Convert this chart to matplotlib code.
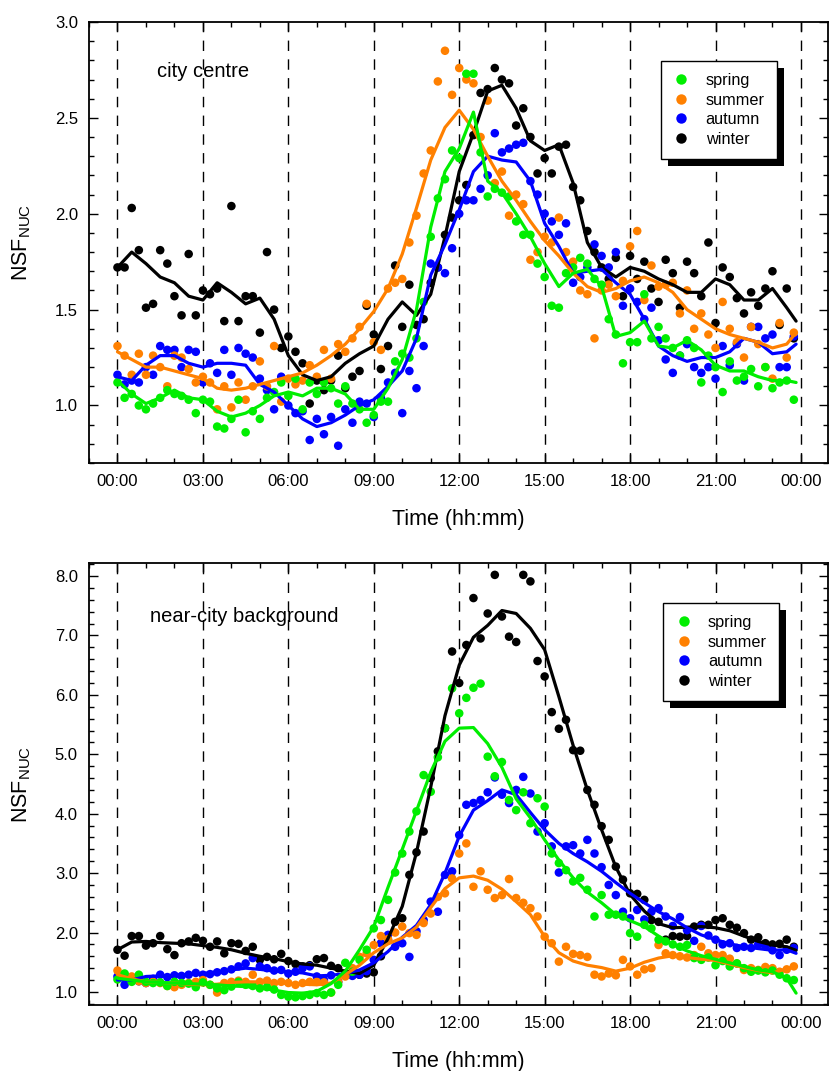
import numpy as np
import matplotlib
matplotlib.use('Agg')
import matplotlib.pyplot as plt
from matplotlib.patches import Rectangle
from matplotlib.lines import Line2D
from matplotlib.ticker import MultipleLocator, FixedLocator

plt.rcParams['font.family'] = ['Liberation Sans', 'DejaVu Sans']
plt.rcParams['mathtext.fontset'] = 'custom'
plt.rcParams['mathtext.rm'] = 'Liberation Sans'

SEASONS = ['spring', 'summer', 'autumn', 'winter']
COLORS = {'spring': '#00ee00', 'summer': '#ff8000', 'autumn': '#0000ff', 'winter': '#000000'}

# scatter: 15-min resolution (hours)
T_SCATTER = np.arange(96) * 0.25
# smoothed lines: 30-min resolution, last point at 23:50
T_LINE = np.append(np.arange(0, 24, 0.5), 23.83)

XTICKS = [0, 3, 6, 9, 12, 15, 18, 21, 24]
XTICKLABELS = ['00:00', '03:00', '06:00', '09:00', '12:00', '15:00', '18:00', '21:00', '00:00']

# ---------------- city centre ----------------
CC_SPRING = [1.12, 1.04, 1.06, 1.00, 0.98, 1.01, 1.04, 1.08, 1.06, 1.05, 1.03, 0.96,
             1.03, 1.02, 0.89, 0.88, 0.93, 1.03, 0.86, 0.97, 0.93, 1.04, 1.07, 1.12,
             1.05, 1.14, 0.98, 1.12, 1.06, 1.12, 1.09, 1.01, 1.10, 1.01, 0.98, 0.91,
             0.95, 1.02, 1.02, 1.23, 1.27, 1.25, 1.35, 1.54, 1.88, 2.08, 2.18, 2.33,
             2.29, 2.73, 2.73, 2.32, 2.09, 2.13, 2.11, 2.09, 1.96, 1.89, 1.89, 1.74,
             1.67, 1.52, 1.51, 1.69, 1.72, 1.77, 1.74, 1.66, 1.63, 1.45, 1.37, 1.22,
             1.33, 1.33, 1.58, 1.35, 1.41, 1.35, 1.30, 1.26, 1.34, 1.30, 1.12, 1.26,
             1.20, 1.07, 1.23, 1.13, 1.15, 1.19, 1.10, 1.20, 1.09, 1.12, 1.13, 1.03]
CC_SUMMER = [1.31, 1.26, 1.16, 1.27, 1.16, 1.26, 1.20, 1.10, 1.26, 1.25, 1.19, 1.12,
             1.15, 1.12, 0.98, 1.10, 0.99, 1.12, 1.03, 1.10, 1.23, 1.10, 1.31, 1.02,
             1.14, 1.11, 1.13, 1.21, 1.15, 1.29, 1.14, 1.32, 1.28, 1.35, 1.41, 1.53,
             1.33, 1.29, 1.61, 1.64, 1.66, 1.85, 1.99, 2.21, 2.33, 2.69, 2.85, 2.62,
             2.76, 2.70, 2.68, 2.40, 2.59, 2.16, 2.22, 1.99, 2.10, 2.05, 1.76, 1.80,
             1.88, 1.85, 1.98, 1.80, 1.75, 1.60, 1.58, 1.35, 1.60, 1.63, 1.57, 1.65,
             1.83, 1.91, 1.55, 1.73, 1.62, 1.63, 1.64, 1.48, 1.60, 1.40, 1.48, 1.37,
             1.30, 1.54, 1.40, 1.33, 1.25, 1.41, 1.32, 1.20, 1.14, 1.43, 1.25, 1.38]
CC_AUTUMN = [1.16, 1.11, 1.13, 1.12, 1.20, 1.16, 1.31, 1.29, 1.29, 1.20, 1.29, 1.28,
             1.12, 1.22, 1.17, 1.29, 1.16, 1.30, 1.27, 1.25, 1.14, 1.08, 0.98, 1.15,
             1.00, 0.96, 0.97, 0.82, 0.93, 0.85, 0.94, 0.79, 0.98, 0.91, 1.02, 1.01,
             0.94, 1.04, 1.12, 1.17, 0.96, 1.18, 1.09, 1.31, 1.74, 1.72, 1.69, 1.82,
             2.00, 2.07, 2.07, 2.13, 2.20, 2.42, 2.32, 2.34, 2.36, 2.37, 2.17, 2.10,
             2.00, 1.96, 1.89, 1.95, 1.64, 1.67, 1.72, 1.84, 1.78, 1.72, 1.80, 1.52,
             1.61, 1.54, 1.45, 1.51, 1.34, 1.24, 1.17, 1.26, 1.32, 1.20, 1.17, 1.20,
             1.14, 1.31, 1.21, 1.32, 1.13, 1.41, 1.41, 1.35, 1.37, 1.20, 1.20, 1.36]
CC_WINTER = [1.72, 1.72, 2.03, 1.81, 1.51, 1.53, 1.81, 1.74, 1.57, 1.47, 1.79, 1.47,
             1.60, 1.58, 1.61, 1.44, 2.04, 1.44, 1.57, 1.57, 1.38, 1.80, 1.50, 1.30,
             1.36, 1.28, 1.22, 1.01, 1.13, 1.08, 1.13, 1.26, 1.09, 1.15, 1.18, 1.52,
             1.37, 1.19, 1.31, 1.73, 1.41, 1.63, 1.42, 1.45, 1.64, 1.72, 1.89, 1.98,
             2.07, 2.15, 2.41, 2.63, 2.65, 2.76, 2.70, 2.68, 2.46, 2.55, 2.40, 2.21,
             2.29, 2.21, 2.35, 2.36, 2.14, 2.07, 1.91, 1.80, 1.72, 1.66, 1.77, 1.57,
             1.78, 1.66, 1.75, 1.61, 1.54, 1.76, 1.69, 1.51, 1.75, 1.69, 1.57, 1.85,
             1.43, 1.72, 1.67, 1.56, 1.48, 1.59, 1.52, 1.61, 1.70, 1.42, 1.61, 1.35]

CC_SPRING_FIT = [1.13, 1.06, 1.01, 1.04, 1.08, 1.04, 1.03, 0.97, 0.94, 0.96,
                 1.00, 1.05, 1.07, 1.05, 1.09, 1.09, 1.06, 0.98, 0.98, 1.09,
                 1.24, 1.50, 1.93, 2.22, 2.34, 2.53, 2.17, 2.11, 2.00, 1.88,
                 1.74, 1.62, 1.69, 1.71, 1.62, 1.36, 1.38, 1.44, 1.31, 1.30,
                 1.34, 1.29, 1.21, 1.18, 1.18, 1.15, 1.13, 1.13, 1.12]
CC_SUMMER_FIT = [1.28, 1.24, 1.20, 1.20, 1.18, 1.16, 1.14, 1.09, 1.08, 1.09,
                 1.11, 1.13, 1.15, 1.17, 1.21, 1.26, 1.32, 1.40, 1.49, 1.61,
                 1.79, 2.03, 2.28, 2.45, 2.54, 2.44, 2.30, 2.17, 2.07, 1.96,
                 1.86, 1.78, 1.69, 1.62, 1.59, 1.61, 1.65, 1.67, 1.64, 1.59,
                 1.50, 1.45, 1.40, 1.37, 1.35, 1.33, 1.30, 1.32, 1.38]
CC_AUTUMN_FIT = [1.15, 1.13, 1.21, 1.26, 1.26, 1.22, 1.20, 1.22, 1.22, 1.21,
                 1.11, 1.07, 1.00, 0.93, 0.89, 0.91, 0.95, 1.00, 1.03, 1.10,
                 1.18, 1.35, 1.68, 1.84, 2.02, 2.22, 2.30, 2.28, 2.27, 2.17,
                 1.95, 1.83, 1.69, 1.70, 1.71, 1.64, 1.58, 1.45, 1.31, 1.26,
                 1.23, 1.25, 1.25, 1.28, 1.35, 1.33, 1.27, 1.28, 1.32]
CC_WINTER_FIT = [1.72, 1.80, 1.74, 1.67, 1.64, 1.57, 1.55, 1.64, 1.59, 1.53,
                 1.56, 1.45, 1.26, 1.16, 1.13, 1.15, 1.22, 1.27, 1.31, 1.45,
                 1.54, 1.47, 1.58, 1.88, 2.22, 2.42, 2.64, 2.67, 2.55, 2.38,
                 2.33, 2.36, 2.16, 1.85, 1.72, 1.67, 1.72, 1.70, 1.66, 1.63,
                 1.59, 1.59, 1.66, 1.63, 1.55, 1.55, 1.61, 1.51, 1.44]

# ---------------- near-city background ----------------
NC_SPRING = [1.21, 1.31, 1.17, 1.29, 1.17, 1.15, 1.16, 1.10, 1.17, 1.15, 1.14, 1.08,
             1.16, 1.12, 1.06, 1.03, 1.09, 1.17, 1.12, 1.10, 1.06, 1.08, 1.04, 0.95,
             0.92, 0.91, 0.93, 0.95, 0.98, 0.95, 0.99, 1.12, 1.49, 1.34, 1.54, 1.71,
             2.07, 2.21, 2.55, 3.01, 3.33, 3.70, 4.04, 4.65, 4.37, 4.95, 5.44, 6.11,
             5.69, 5.95, 6.12, 6.19, 4.96, 4.63, 4.87, 4.23, 4.06, 4.36, 3.84, 4.26,
             4.12, 3.33, 3.17, 3.05, 2.86, 2.92, 2.72, 2.27, 2.63, 2.30, 2.30, 2.27,
             1.99, 1.93, 2.13, 2.07, 1.88, 1.85, 1.80, 1.76, 1.79, 1.57, 1.54, 1.58,
             1.45, 1.52, 1.43, 1.48, 1.40, 1.34, 1.36, 1.33, 1.36, 1.29, 1.23, 1.20]
NC_SUMMER = [1.36, 1.29, 1.26, 1.18, 1.15, 1.17, 1.15, 1.10, 1.08, 1.12, 1.15, 1.17,
             1.20, 1.12, 0.99, 1.15, 1.17, 1.19, 1.17, 1.29, 1.17, 1.19, 1.15, 1.17,
             1.15, 1.12, 1.15, 1.17, 1.17, 1.16, 0.99, 1.17, 1.26, 1.40, 1.59, 1.65,
             1.79, 1.94, 1.89, 2.00, 2.10, 1.99, 1.96, 2.16, 2.32, 2.60, 2.66, 2.91,
             3.33, 3.50, 2.77, 3.03, 2.72, 2.58, 2.63, 2.90, 2.58, 2.50, 2.41, 2.27,
             1.93, 1.82, 1.51, 1.76, 1.64, 1.62, 1.59, 1.29, 1.26, 1.31, 1.28, 1.54,
             1.43, 1.29, 1.38, 1.40, 1.79, 1.65, 1.62, 1.60, 1.58, 1.62, 1.76, 1.65,
             1.62, 1.62, 1.56, 1.48, 1.37, 1.40, 1.37, 1.42, 1.40, 1.34, 1.38, 1.43]
NC_AUTUMN = [1.26, 1.12, 1.20, 1.18, 1.15, 1.22, 1.29, 1.25, 1.28, 1.27, 1.29, 1.32,
             1.29, 1.30, 1.33, 1.35, 1.38, 1.43, 1.48, 1.57, 1.43, 1.40, 1.36, 1.37,
             1.31, 1.34, 1.40, 1.43, 1.26, 1.20, 1.28, 1.17, 1.29, 1.27, 1.29, 1.35,
             1.54, 1.82, 1.96, 1.76, 1.82, 1.59, 2.02, 2.21, 2.52, 2.35, 2.97, 3.03,
             3.64, 4.15, 4.18, 4.23, 4.36, 4.61, 4.32, 4.18, 4.40, 4.62, 4.34, 3.70,
             3.84, 3.45, 3.01, 3.45, 3.47, 3.33, 3.56, 3.33, 3.10, 2.80, 2.63, 2.35,
             2.24, 2.38, 2.22, 2.35, 2.41, 2.27, 2.11, 2.26, 2.04, 1.86, 2.11, 1.95,
             1.88, 1.80, 1.82, 1.74, 1.76, 1.74, 1.80, 1.77, 1.70, 1.62, 1.71, 1.74]
NC_WINTER = [1.71, 1.61, 1.94, 1.94, 1.78, 1.82, 1.94, 1.72, 1.62, 1.82, 1.85, 1.91,
             1.86, 1.76, 1.85, 1.65, 1.82, 1.81, 1.69, 1.76, 1.54, 1.59, 1.55, 1.64,
             1.52, 1.47, 1.43, 1.45, 1.55, 1.57, 1.44, 1.40, 1.31, 1.30, 1.29, 1.31,
             1.33, 1.60, 1.87, 2.18, 2.24, 2.97, 3.35, 3.70, 4.60, 5.05, 5.44, 6.73,
             6.20, 6.84, 7.63, 6.95, 7.37, 8.02, 7.32, 6.98, 6.89, 8.02, 7.91, 6.57,
             6.31, 5.71, 5.43, 5.58, 5.07, 5.06, 4.40, 4.15, 3.79, 3.56, 3.11, 2.89,
             2.66, 2.65, 2.55, 2.21, 2.18, 1.88, 1.94, 1.93, 1.94, 2.10, 2.13, 2.13,
             2.21, 2.24, 2.13, 2.08, 1.99, 1.88, 1.92, 1.82, 1.80, 1.81, 1.88, 1.76]

NC_SPRING_FIT = [1.23, 1.20, 1.17, 1.16, 1.15, 1.14, 1.13, 1.12, 1.10, 1.09,
                 1.07, 1.03, 0.99, 0.98, 1.01, 1.14, 1.35, 1.71, 2.10, 2.76,
                 3.40, 4.05, 4.70, 5.22, 5.44, 5.45, 5.18, 4.78, 4.25, 3.93,
                 3.56, 3.22, 2.92, 2.68, 2.50, 2.30, 2.20, 2.10, 1.94, 1.80,
                 1.69, 1.61, 1.55, 1.49, 1.43, 1.37, 1.34, 1.23, 0.98]
NC_SUMMER_FIT = [1.29, 1.22, 1.17, 1.16, 1.15, 1.13, 1.12, 1.13, 1.16, 1.17,
                 1.17, 1.16, 1.14, 1.13, 1.12, 1.15, 1.29, 1.45, 1.66, 1.81,
                 1.91, 2.09, 2.42, 2.74, 2.92, 2.95, 2.88, 2.73, 2.52, 2.30,
                 1.93, 1.66, 1.52, 1.45, 1.41, 1.35, 1.40, 1.50, 1.57, 1.61,
                 1.58, 1.55, 1.53, 1.47, 1.41, 1.36, 1.32, 1.39, 1.43]
NC_AUTUMN_FIT = [1.20, 1.20, 1.26, 1.27, 1.28, 1.29, 1.31, 1.34, 1.37, 1.40,
                 1.38, 1.35, 1.34, 1.32, 1.27, 1.28, 1.31, 1.37, 1.49, 1.68,
                 1.92, 2.12, 2.47, 3.00, 3.62, 4.06, 4.22, 4.40, 4.32, 4.02,
                 3.73, 3.50, 3.33, 3.19, 3.03, 2.84, 2.66, 2.50, 2.35, 2.23,
                 2.08, 1.96, 1.88, 1.81, 1.76, 1.73, 1.70, 1.71, 1.65]
NC_WINTER_FIT = [1.71, 1.84, 1.85, 1.83, 1.82, 1.81, 1.78, 1.75, 1.71, 1.65,
                 1.60, 1.56, 1.51, 1.47, 1.45, 1.40, 1.35, 1.31, 1.45, 1.90,
                 2.44, 3.35, 4.45, 5.65, 6.50, 6.97, 7.17, 7.42, 7.37, 7.12,
                 6.76, 5.97, 5.15, 4.40, 3.73, 3.10, 2.64, 2.36, 2.15, 2.08,
                 2.09, 2.10, 2.08, 2.03, 1.94, 1.85, 1.79, 1.76, 1.70]

PANELS = [
    dict(title='city centre',
         scatter={'spring': CC_SPRING, 'summer': CC_SUMMER, 'autumn': CC_AUTUMN, 'winter': CC_WINTER},
         fit={'spring': CC_SPRING_FIT, 'summer': CC_SUMMER_FIT, 'autumn': CC_AUTUMN_FIT, 'winter': CC_WINTER_FIT},
         ylim=(0.7, 3.0), ymajor=0.5, yminor=0.1,
         rect=[89 / 830, 1 - 463 / 1071, 739 / 830, 441 / 1071],
         text_pos=(0.092, 0.887), leg_anchor=(0.774, 0.912)),
    dict(title='near-city background',
         scatter={'spring': NC_SPRING, 'summer': NC_SUMMER, 'autumn': NC_AUTUMN, 'winter': NC_WINTER},
         fit={'spring': NC_SPRING_FIT, 'summer': NC_SUMMER_FIT, 'autumn': NC_AUTUMN_FIT, 'winter': NC_WINTER_FIT},
         ylim=(0.78, 8.22), ymajor=1.0, yminor=0.2,
         rect=[89 / 830, 1 - 1005 / 1071, 739 / 830, 442 / 1071],
         text_pos=(0.083, 0.880), leg_anchor=(0.777, 0.910)),
]

fig = plt.figure(figsize=(8.3, 10.71), dpi=100)
legends = []
for p in PANELS:
    ax = fig.add_axes(p['rect'])
    for xv in XTICKS:
        ax.axvline(xv, color='black', lw=1.0, dashes=(7.5, 6.0), zorder=1)
    draw_order = ['winter', 'autumn', 'summer', 'spring']
    for s in draw_order:
        ax.scatter(T_SCATTER, p['scatter'][s], s=38, color=COLORS[s], edgecolors='none', zorder=2)
    for s in draw_order:
        ax.plot(T_LINE, p['fit'][s], color=COLORS[s], lw=2.3, zorder=3,
                solid_joinstyle='round', solid_capstyle='round')
    ax.set_xlim(-1, 24.95)
    ax.set_ylim(*p['ylim'])
    ax.xaxis.set_major_locator(FixedLocator(XTICKS))
    ax.set_xticklabels(XTICKLABELS)
    ax.xaxis.set_minor_locator(MultipleLocator(1))
    ax.yaxis.set_major_locator(MultipleLocator(p['ymajor']))
    ax.yaxis.set_minor_locator(MultipleLocator(p['yminor']))
    ax.yaxis.set_major_formatter(matplotlib.ticker.FormatStrFormatter('%.1f'))
    ax.tick_params(which='both', direction='in', top=True, right=True, width=1.0)
    ax.tick_params(which='major', length=6.5, labelsize=12, pad=8)
    ax.tick_params(which='minor', length=3.5)
    for sp in ax.spines.values():
        sp.set_linewidth(1.3)
    ax.set_xlabel('Time (hh:mm)', fontsize=15.5)
    ax.xaxis.set_label_coords(0.5, -0.104)
    ax.set_ylabel(r'NSF$_{\mathregular{NUC}}$', fontsize=15.5)
    ax.yaxis.set_label_coords(-0.076, 0.5)
    ax.text(p['text_pos'][0], p['text_pos'][1], p['title'], transform=ax.transAxes,
            fontsize=14.5, ha='left', va='center')
    handles = [Line2D([], [], marker='o', ls='none', color=COLORS[s], markersize=7.5, markeredgewidth=0)
               for s in SEASONS]
    leg = ax.legend(handles, SEASONS, loc='upper left', bbox_to_anchor=p['leg_anchor'],
                    frameon=True, fancybox=False, framealpha=1, edgecolor='black',
                    fontsize=11.7, handlelength=1.0, handletextpad=1.0, labelspacing=0.28,
                    borderpad=0.75, borderaxespad=0)
    leg.get_frame().set_linewidth(1.0)
    leg.set_zorder(6)
    legends.append((ax, leg))

fig.canvas.draw()
for ax, leg in legends:
    bb = leg.get_frame().get_window_extent()
    inv = ax.transAxes.inverted()
    (x0, y0) = inv.transform((bb.x0 + 7, bb.y0 - 7))
    (x1, y1) = inv.transform((bb.x1 + 7, bb.y1 - 7))
    ax.add_patch(Rectangle((x0, y0), x1 - x0, y1 - y0, transform=ax.transAxes,
                           facecolor='black', edgecolor='none', zorder=5.5, clip_on=False))

fig.savefig('out.png', dpi=100)
